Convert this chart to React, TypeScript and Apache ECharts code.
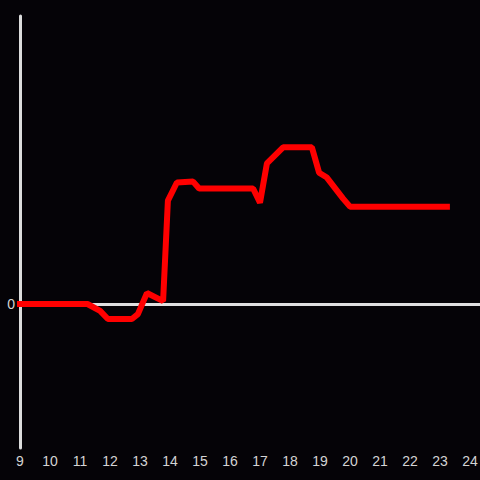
import React, { useEffect, useRef } from "react";
import * as echarts from "echarts";

const hours = [8.9, 11.25, 11.67, 11.93, 12.73, 12.93, 13.23, 13.77, 13.93, 14.23, 14.77, 14.97, 16.77, 17, 17.23, 17.77, 18.73, 18.97, 19.23, 19.77, 20, 23.33];
const values = [0, 0, -2.4, -5.2, -5.2, -3.5, 3.8, 1, 35.9, 42.2, 42.5, 40.1, 40.1, 35.2, 48.8, 54.4, 54.4, 45.6, 43.9, 36.6, 33.8, 33.8];
const xTicks = [9, 10, 11, 12, 13, 14, 15, 16, 17, 18, 19, 20, 21, 22, 23, 24];

export default function App() {
  const ref = useRef<HTMLDivElement>(null);
  useEffect(() => {
    const chart = echarts.init(ref.current!, null, { renderer: "svg" });
    chart.setOption({
      animation: false,
      backgroundColor: "#050307",
      textStyle: { fontFamily: "Liberation Sans, Arial, sans-serif" },
      grid: { left: 20, right: 0, top: 16, bottom: 32, outerBoundsMode: "none", containLabel: false },
      xAxis: {
        type: "value",
        min: 9,
        max: 24 + 1 / 3,
        interval: 1,
        axisLine: { show: false },
        axisTick: { show: false },
        splitLine: { show: false },
        axisLabel: {
          color: "#d4d4d4",
          fontSize: 14,
          margin: 6,
          formatter: (v: number) => (xTicks.includes(v) ? String(v) : ""),
        },
      },
      yAxis: {
        type: "value",
        min: -50,
        max: 100,
        interval: 50,
        axisLine: { show: true, onZero: false, lineStyle: { color: "#dcdcdc", width: 3 } },
        axisTick: { show: false },
        splitLine: { show: false },
        axisLabel: {
          color: "#d4d4d4",
          fontSize: 14,
          margin: 5,
          formatter: (v: number) => (v === 0 ? "0" : ""),
        },
      },
      series: [
        {
          type: "line",
          data: hours.map((h, i) => [h, values[i]]),
          showSymbol: false,
          clip: false,
          lineStyle: { color: "#ff0000", width: 6 },
          z: 3,
          markLine: {
            silent: true,
            symbol: "none",
            label: { show: false },
            lineStyle: { color: "#e0e0e0", width: 3, type: "solid" },
            data: [{ yAxis: 0 }],
            z: 1,
          },
        },
      ],
    });
    return () => chart.dispose();
  }, []);
  return <div ref={ref} style={{ position: "fixed", left: 0, top: 0, width: 480, height: 480 }} />;
}
